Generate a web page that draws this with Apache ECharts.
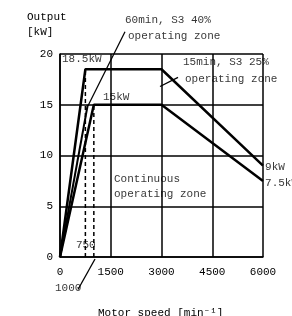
<!DOCTYPE html>
<html>
<head>
<meta charset="utf-8">
<script src="https://cdn.jsdelivr.net/npm/echarts@6/dist/echarts.min.js"></script>
<style>
  html, body { margin: 0; padding: 0; background: #fff; }
  #main { width: 292px; height: 316px; }
</style>
</head>
<body>
<div id="main"></div>
<script>
// 数据
var xTicks = [0, 1500, 3000, 4500, 6000];
var yTicks = [0, 5, 10, 15, 20];
var s3Line = [[0, 0], [750, 18.5], [3000, 18.5], [6000, 9]];
var contLine = [[0, 0], [1000, 15], [3000, 15], [6000, 7.5]];
var s3Rise = [[0, 0], [820, 15]];
var dash750 = [[750, 0], [750, 18.5]];
var dash1000 = [[1000, 0], [1000, 15]];
var ptr60 = [[1921, 22.2], [828, 14.9]];
var ptr15 = [[2956, 16.8], [3488, 17.7]];
var ptr1000 = [[532, -3.2], [1035, -0.2]];
var notes = [
    [59, 19.5, '18.5kW'],
    [1271, 15.8, '15kW'],
    [1596, 7.7, 'Continuous'],
    [1596, 6.2, 'operating zone'],
    [1921, 23.3, '60min, S3 40%'],
    [2010, 21.8, 'operating zone'],
    [3635, 19.2, '15min, S3 25%'],
    [3695, 17.5, 'operating zone'],
    [6060, 8.9, '9kW'],
    [6060, 7.3, '7.5kW'],
    [470, 1.2, '750'],
    [-148, -3.1, '1000']
];

var FONT = '"Liberation Mono", "DejaVu Sans Mono", monospace';
var INK = '#000';

function line(data, w, dashed) {
    return {
        type: 'line',
        data: data,
        symbol: 'none',
        silent: true,
        clip: false,
        animation: false,
        lineStyle: { color: INK, width: w, type: dashed ? [4, 3] : 'solid' }
    };
}

var myChart = echarts.init(document.getElementById('main'));

option = {
    animation: false,
    grid: { left: 60, right: 29, top: 54, bottom: 59 },
    xAxis: {
        type: 'value',
        min: 0, max: 6000, interval: 1500,
        axisLine: { lineStyle: { color: INK, width: 1.5 } },
        axisTick: { show: false },
        axisLabel: {
            color: INK, fontFamily: FONT, fontSize: 11, margin: 10,
            formatter: function (v) { return String(v); }
        },
        splitLine: { lineStyle: { color: INK, width: 1.5 } }
    },
    yAxis: {
        type: 'value',
        min: 0, max: 20, interval: 5,
        axisLine: { show: true, lineStyle: { color: INK, width: 1.5 } },
        axisTick: { show: false },
        axisLabel: { color: INK, fontFamily: FONT, fontSize: 11, margin: 7 },
        splitLine: { lineStyle: { color: INK, width: 1.5 } }
    },
    graphic: [
        { type: 'text', left: 27, top: 10, style: { text: 'Output\n[kW]', font: '11px ' + FONT, fill: INK, lineHeight: 15 } },
        { type: 'text', left: 98, top: 308, style: { text: 'Motor speed [min⁻¹]', font: '11px ' + FONT, fill: INK } }
    ],
    series: [
        line(s3Line, 2.5, false),
        line(contLine, 2.5, false),
        line(s3Rise, 2, false),
        line(dash750, 1.5, true),
        line(dash1000, 1.5, true),
        line(ptr60, 1.3, false),
        line(ptr15, 1.3, false),
        line(ptr1000, 1.3, false),
        {
            type: 'scatter',
            data: notes,
            symbolSize: 0,
            silent: true,
            clip: false,
            label: {
                show: true,
                position: 'right',
                distance: 0,
                color: INK,
                fontFamily: FONT,
                fontSize: 11,
                formatter: function (p) { return p.data[2]; }
            }
        }
    ]
};

myChart.setOption(option);
</script>
</body>
</html>
